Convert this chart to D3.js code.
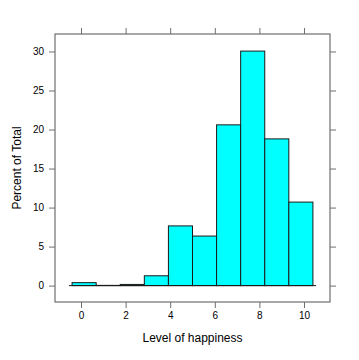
<!DOCTYPE html>
<html><head><meta charset="utf-8">
<script src="https://cdn.jsdelivr.net/npm/d3@7"></script>
<style>body{margin:0;background:#fff}svg{display:block}text{font-family:"Liberation Sans",Arial,sans-serif}</style>
</head><body>
<script>
const breaks = [-0.4, 0.68, 1.76, 2.84, 3.92, 5.0, 6.08, 7.16, 8.24, 9.32, 10.4];
const percents = [0.38, 0.03, 0.15, 1.26, 7.65, 6.35, 20.6, 30.05, 18.8, 10.7];
const xTicks = [0, 2, 4, 6, 8, 10];
const yTicks = [0, 5, 10, 15, 20, 25, 30];
const xLabel = "Level of happiness";
const yLabel = "Percent of Total";

const W = 359, H = 360;
const svg = d3.select("body").append("svg").attr("width", W).attr("height", H);
const pL = 55, pR = 330, pT = 34, pB = 302;
const x = d3.scaleLinear().domain([-1.166, 11.166]).range([pL, pR]);
const y = d3.scaleLinear().domain([-2.1, 32.24]).range([pB, pT]);
const axisCol = "#6e6e6e";

// bars
const bins = percents.map((p, i) => ({x0: breaks[i], x1: breaks[i + 1], p}));
svg.append("g").selectAll("rect").data(bins).join("rect")
  .attr("x", d => x(d.x0)).attr("width", d => x(d.x1) - x(d.x0))
  .attr("y", d => y(d.p)).attr("height", d => y(0) - y(d.p))
  .attr("fill", "#00ffff").attr("stroke", "#1a1a1a").attr("stroke-width", 1);

// baseline
svg.append("line")
  .attr("x1", x(breaks[0] - 0.14)).attr("x2", x(breaks[breaks.length - 1] + 0.14))
  .attr("y1", y(0)).attr("y2", y(0)).attr("stroke", "#1a1a1a");

// panel border
svg.append("rect").attr("x", pL).attr("y", pT).attr("width", pR - pL).attr("height", pB - pT)
  .attr("fill", "none").attr("stroke", axisCol).attr("stroke-width", 1.2);

// axes
const fmt = d => d;
svg.append("g").attr("transform", `translate(0,${pB})`)
  .call(d3.axisBottom(x).tickValues(xTicks).tickSize(6).tickPadding(4).tickFormat(fmt))
  .call(g => { g.select(".domain").remove(); g.selectAll("line").attr("stroke", axisCol); g.selectAll("text").attr("font-size", 10).attr("font-family", "Liberation Sans, Arial").attr("fill", "#000"); });
svg.append("g").attr("transform", `translate(0,${pT})`)
  .call(d3.axisTop(x).tickValues(xTicks).tickSize(6).tickFormat(""))
  .call(g => { g.select(".domain").remove(); g.selectAll("line").attr("stroke", axisCol); });
svg.append("g").attr("transform", `translate(${pL},0)`)
  .call(d3.axisLeft(y).tickValues(yTicks).tickSize(6).tickPadding(5).tickFormat(fmt))
  .call(g => { g.select(".domain").remove(); g.selectAll("line").attr("stroke", axisCol); g.selectAll("text").attr("font-size", 10).attr("font-family", "Liberation Sans, Arial").attr("fill", "#000"); });
svg.append("g").attr("transform", `translate(${pR},0)`)
  .call(d3.axisRight(y).tickValues(yTicks).tickSize(6).tickFormat(""))
  .call(g => { g.select(".domain").remove(); g.selectAll("line").attr("stroke", axisCol); });

// labels
svg.append("text").attr("x", (pL + pR) / 2).attr("y", 342).attr("text-anchor", "middle")
  .attr("font-size", 12).text(xLabel);
svg.append("text").attr("transform", `translate(21,${(pT + pB) / 2}) rotate(-90)`).attr("text-anchor", "middle")
  .attr("font-size", 12).text(yLabel);
</script>
</body></html>
